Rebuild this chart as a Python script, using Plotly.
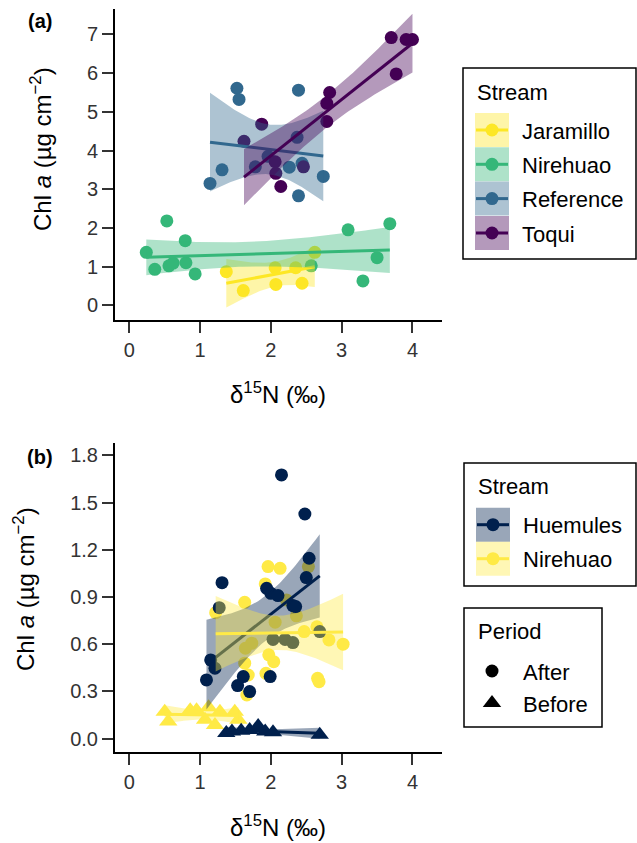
import math
import numpy as np
import plotly.graph_objects as go

# ---------------- Panel (a) data ----------------
jar_x = [1.37, 1.61, 2.06, 2.07, 2.35, 2.44, 2.62]
jar_y = [0.87, 0.38, 0.97, 0.54, 0.97, 0.57, 1.37]

nirA_x = [0.24, 0.53, 0.36, 0.56, 0.62, 0.79, 0.80, 0.93, 2.57, 3.09, 3.68, 3.50, 3.30]
nirA_y = [1.37, 2.18, 0.93, 1.02, 1.09, 1.67, 1.10, 0.81, 1.02, 1.95, 2.11, 1.23, 0.63]

ref_x = [1.52, 1.55, 2.39, 2.37, 1.78, 2.26, 2.44, 1.31, 1.14, 2.39, 2.74, 1.96]
ref_y = [5.61, 5.32, 5.56, 4.34, 3.58, 3.57, 3.67, 3.50, 3.15, 2.83, 3.33, 3.85]

toq_x = [3.70, 3.91, 4.00, 3.77, 2.83, 2.79, 2.79, 1.87, 1.62, 2.06, 2.07, 2.14, 2.46]
toq_y = [6.92, 6.87, 6.87, 5.98, 5.50, 5.22, 4.75, 4.68, 4.24, 3.71, 3.41, 3.07, 3.58]

streams_a = ["Jaramillo", "Nirehuao", "Reference", "Toqui"]
colors_a = ["#FDE725", "#35B779", "#31688E", "#440154"]

# ---------------- Panel (b) data ----------------
hue_after_x = [2.15, 2.48, 2.54, 2.50, 1.31, 1.94, 2.00, 2.10, 2.31, 2.35, 1.27,
               2.69, 2.03, 2.20, 2.31, 1.15, 1.21, 1.09, 1.61, 1.53, 1.70, 1.99]
hue_after_y = [1.675, 1.427, 1.146, 1.023, 0.991, 0.955, 0.923, 0.909, 0.845, 0.839, 0.832,
               0.680, 0.630, 0.630, 0.610, 0.500, 0.447, 0.373, 0.394, 0.337, 0.299, 0.394]

hue_before_x = [1.37, 1.45, 1.58, 1.70, 1.82, 1.92, 2.03, 2.69]
hue_before_y = [0.035, 0.045, 0.050, 0.055, 0.080, 0.045, 0.040, 0.024]

nir_after_x = [1.96, 2.13, 2.53, 1.92, 1.63, 1.22, 2.22, 2.36, 2.06, 2.47, 2.65, 2.82,
               3.02, 1.64, 1.73, 1.63, 1.68, 1.97, 2.04, 1.93, 2.66, 2.68, 1.66]
nir_after_y = [1.093, 1.082, 1.093, 0.983, 0.866, 0.800, 0.881, 0.780, 0.740, 0.680, 0.710, 0.627,
               0.600, 0.574, 0.606, 0.479, 0.404, 0.532, 0.489, 0.415, 0.383, 0.362, 0.277]

nir_before_x = [0.50, 0.55, 0.86, 0.95, 1.12, 1.07, 1.28, 1.21, 1.49, 1.54]
nir_before_y = [0.170, 0.108, 0.180, 0.180, 0.200, 0.120, 0.170, 0.087, 0.170, 0.120]

streams_b = ["Huemules", "Nirehuao"]
colors_b = ["#00204D", "#FFEA46"]
periods = ["After", "Before"]

a_yticks = [0, 1, 2, 3, 4, 5, 6, 7]
b_yticks = [0.0, 0.3, 0.6, 0.9, 1.2, 1.5, 1.8]
x_ticks = [0, 1, 2, 3, 4]

FONT = "Liberation Sans, Arial, sans-serif"
W, H = 637, 843


def t975(df):
    c = math.exp(math.lgamma((df + 1) / 2) - math.lgamma(df / 2)) / math.sqrt(df * math.pi)
    g = np.linspace(0, 8, 80001)
    pdf = c * (1 + g ** 2 / df) ** (-(df + 1) / 2)
    cdf = 0.5 + np.concatenate([[0], np.cumsum((pdf[1:] + pdf[:-1]) / 2 * np.diff(g))])
    return float(np.interp(0.975, cdf, g))


def lm_band(x, y, n=80):
    x = np.asarray(x, float)
    y = np.asarray(y, float)
    b, a = np.polyfit(x, y, 1)
    xs = np.linspace(x.min(), x.max(), n)
    yh = a + b * xs
    res = y - (a + b * x)
    df = len(x) - 2
    s2 = res @ res / df
    sxx = ((x - x.mean()) ** 2).sum()
    se = np.sqrt(s2 * (1 / len(x) + (xs - x.mean()) ** 2 / sxx))
    t = t975(df)
    return xs, yh, yh - t * se, yh + t * se


def rgba(hexc, a):
    h = hexc.lstrip("#")
    return "rgba(%d,%d,%d,%.2f)" % (int(h[0:2], 16), int(h[2:4], 16), int(h[4:6], 16), a)


fig = go.Figure()

# ---- panel a points ----
a_data = [(jar_x, jar_y), (nirA_x, nirA_y), (ref_x, ref_y), (toq_x, toq_y)]
for (xx, yy), c in zip(a_data, colors_a):
    fig.add_trace(go.Scatter(x=xx, y=yy, mode="markers", xaxis="x", yaxis="y",
                             marker=dict(size=13, color=c, line=dict(width=0)),
                             showlegend=False, hoverinfo="skip"))
# ---- panel a smooths ----
for (xx, yy), c in zip(a_data, colors_a):
    xs, yh, lo, hi = lm_band(xx, yy)
    fig.add_trace(go.Scatter(x=np.concatenate([xs, xs[::-1]]), y=np.concatenate([hi, lo[::-1]]),
                             mode="lines", fill="toself", fillcolor=rgba(c, 0.4),
                             line=dict(width=0), xaxis="x", yaxis="y",
                             showlegend=False, hoverinfo="skip"))
    fig.add_trace(go.Scatter(x=xs, y=yh, mode="lines", line=dict(color=c, width=3),
                             xaxis="x", yaxis="y", showlegend=False, hoverinfo="skip"))

# ---- panel b points ----
b_groups = {
    ("Huemules", "After"): (hue_after_x, hue_after_y),
    ("Huemules", "Before"): (hue_before_x, hue_before_y),
    ("Nirehuao", "After"): (nir_after_x, nir_after_y),
    ("Nirehuao", "Before"): (nir_before_x, nir_before_y),
}
for s, c in list(zip(streams_b, colors_b))[::-1]:
    for p in periods:
        xx, yy = b_groups[(s, p)]
        sym = "circle" if p == "After" else "triangle-up"
        sz = 13 if p == "After" else 16
        fig.add_trace(go.Scatter(x=xx, y=yy, mode="markers", xaxis="x2", yaxis="y2",
                                 marker=dict(size=sz, color=c, symbol=sym, line=dict(width=0)),
                                 showlegend=False, hoverinfo="skip"))
for s, c in zip(streams_b, colors_b):
    for p in periods:
        xx, yy = b_groups[(s, p)]
        xs, yh, lo, hi = lm_band(xx, yy)
        fig.add_trace(go.Scatter(x=np.concatenate([xs, xs[::-1]]), y=np.concatenate([hi, lo[::-1]]),
                                 mode="lines", fill="toself", fillcolor=rgba(c, 0.4),
                                 line=dict(width=0), xaxis="x2", yaxis="y2",
                                 showlegend=False, hoverinfo="skip"))
        fig.add_trace(go.Scatter(x=xs, y=yh, mode="lines", line=dict(color=c, width=3),
                                 xaxis="x2", yaxis="y2", showlegend=False, hoverinfo="skip"))

# ---- manual legends (pixel overlay axis) ----
shapes = []
annos = []


def px_rect(x0, y0, x1, y1, fill=None, line=None, lw=0):
    shapes.append(dict(type="rect", xref="x3", yref="y3", x0=x0, y0=y0, x1=x1, y1=y1,
                       fillcolor=fill if fill else "rgba(0,0,0,0)",
                       line=dict(color=line if line else "rgba(0,0,0,0)", width=lw),
                       layer="below"))


def txt(x, y, s, size=22, color="#000000", **kw):
    annos.append(dict(xref="x3", yref="y3", x=x, y=y, text=s, showarrow=False,
                      xanchor=kw.get("xanchor", "left"), yanchor="middle",
                      font=dict(family=FONT, size=size, color=color),
                      textangle=kw.get("textangle", 0)))


# legend a
px_rect(463, 68, 636, 259, line="#000000", lw=1.5)
txt(475, 92, "Stream")
key_tops = [113, 147.3, 181.6, 216]
for name, c, kt in zip(streams_a, colors_a, key_tops):
    px_rect(475, kt, 509, kt + 34, fill=rgba(c, 0.4))
    cy = kt + 17
    fig.add_trace(go.Scatter(x=[476, 492, 508], y=[cy, cy, cy], mode="lines", xaxis="x3", yaxis="y3",
                             line=dict(color=c, width=3), showlegend=False, hoverinfo="skip"))
    fig.add_trace(go.Scatter(x=[492], y=[cy], mode="markers", xaxis="x3", yaxis="y3",
                             marker=dict(size=13, color=c, line=dict(width=0)),
                             showlegend=False, hoverinfo="skip"))
    txt(520, cy + 1, name)

# legend b stream
px_rect(464, 463, 636, 586, line="#000000", lw=1.5)
txt(476, 486, "Stream")
for name, c, kt in zip(streams_b, colors_b, [507.7, 541.7]):
    px_rect(476, kt, 510, kt + 34, fill=rgba(c, 0.4))
    cy = kt + 17
    fig.add_trace(go.Scatter(x=[477, 493, 509], y=[cy, cy, cy], mode="lines", xaxis="x3", yaxis="y3",
                             line=dict(color=c, width=3), showlegend=False, hoverinfo="skip"))
    fig.add_trace(go.Scatter(x=[493], y=[cy], mode="markers", xaxis="x3", yaxis="y3",
                             marker=dict(size=13, color=c, line=dict(width=0)),
                             showlegend=False, hoverinfo="skip"))
    txt(521, cy + 1, name)

# legend b period
px_rect(464, 608, 602, 727, line="#000000", lw=1.5)
txt(476, 631, "Period")
for p, cy in zip(periods, [671, 703]):
    sym = "circle" if p == "After" else "triangle-up"
    sz = 13 if p == "After" else 16
    fig.add_trace(go.Scatter(x=[492], y=[cy], mode="markers", xaxis="x3", yaxis="y3",
                             marker=dict(size=sz, color="#000000", symbol=sym, line=dict(width=0)),
                             showlegend=False, hoverinfo="skip"))
    txt(521, cy + 1, p)

# panel labels and axis titles
txt(39.5, 21, "<b>(a)</b>", size=20, xanchor="center")
txt(39.5, 457, "<b>(b)</b>", size=20, xanchor="center")
ytitle = "Chl <i>a</i> (µg cm<sup>−2</sup>)"
xtitle = "δ<sup>15</sup>N (‰)"
txt(41, 149, ytitle, size=24, xanchor="center", textangle=-90)
txt(24, 589, ytitle, size=24, xanchor="center", textangle=-90)
txt(278, 393, xtitle, size=24, xanchor="center")
txt(278, 826, xtitle, size=24, xanchor="center")

axis_common = dict(showgrid=False, zeroline=False, showline=True, linecolor="#000000", linewidth=2,
                   ticks="outside", ticklen=11, tickwidth=2, tickcolor="#333333",
                   tickfont=dict(family=FONT, size=20, color="#333333"))

fig.update_layout(
    width=W, height=H,
    margin=dict(l=0, r=0, t=0, b=0),
    paper_bgcolor="white", plot_bgcolor="rgba(0,0,0,0)",
    showlegend=False,
    xaxis=dict(domain=[115 / W, 442 / W], range=[-0.202, 4.417], anchor="y",
               tickvals=x_ticks, **axis_common),
    yaxis=dict(domain=[1 - 320 / H, 1 - 9.3 / H], range=[-0.38, 7.65], anchor="x",
               tickvals=a_yticks, **axis_common),
    xaxis2=dict(domain=[115 / W, 442 / W], range=[-0.202, 4.417], anchor="y2",
                tickvals=x_ticks, **axis_common),
    yaxis2=dict(domain=[1 - 752.3 / H, 1 - 442.7 / H], range=[-0.087, 1.88], anchor="x2",
                tickvals=b_yticks, tickformat=".1f", **axis_common),
    xaxis3=dict(domain=[0, 1], range=[0, W], visible=False, anchor="y3", fixedrange=True),
    yaxis3=dict(domain=[0, 1], range=[H, 0], visible=False, anchor="x3", fixedrange=True),
    shapes=shapes,
    annotations=annos,
    font=dict(family=FONT, color="#000000"),
)

fig.write_html(
    "out.html",
    config={"displayModeBar": False},
    post_script="document.body.style.margin='0';document.body.style.padding='0';"
                "document.body.style.overflow='hidden';",
)
